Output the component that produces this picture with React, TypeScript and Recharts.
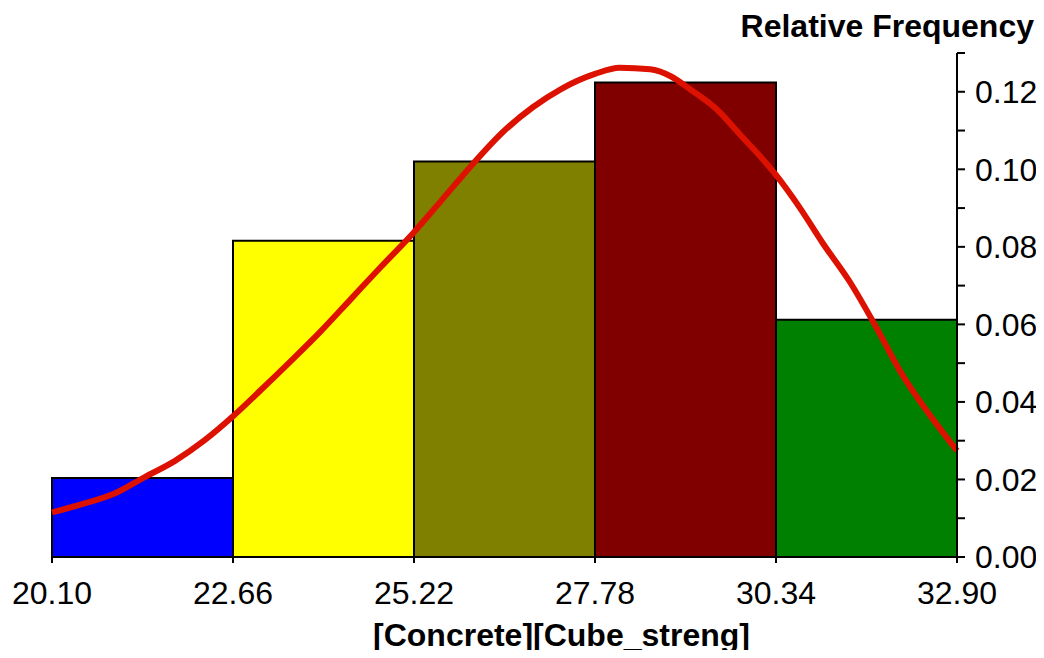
import React from 'react';
import {
  Bar,
  Cell,
  ComposedChart,
  Label,
  Line,
  XAxis,
  YAxis
} from 'recharts';

const binEdges = [20.1, 22.66, 25.22, 27.78, 30.34, 32.9];
const binLabels = ['20.10-22.66', '22.66-25.22', '25.22-27.78', '27.78-30.34', '30.34-32.90'];
const relFrequency = [0.0204, 0.0816, 0.102, 0.1224, 0.0612];
const binColors = ['#0000ff', '#ffff00', '#808000', '#800000', '#008000'];

const curveX = [
  20.1, 20.5, 21.0, 21.4, 21.84, 22.25, 22.66, 23.05, 23.47, 23.9, 24.31, 24.75,
  25.21, 25.6, 26.0, 26.5, 26.9, 27.3, 27.78, 28.13, 28.56, 28.85, 29.12, 29.5,
  29.83, 30.32, 30.68, 31.0, 31.39, 31.75, 32.1, 32.5, 32.9
];
const curveDensity = [
  0.0115, 0.0135, 0.0165, 0.0205, 0.0248, 0.0300, 0.0363, 0.0430, 0.0504, 0.0582,
  0.0662, 0.0748, 0.0836, 0.0918, 0.1003, 0.1100, 0.1160, 0.1207, 0.1246, 0.1262,
  0.1258, 0.1240, 0.1207, 0.1155, 0.1090, 0.0990, 0.0900, 0.0810, 0.0708, 0.0595,
  0.0478, 0.0370, 0.0274
];

const yTicks = [0, 0.01, 0.02, 0.03, 0.04, 0.05, 0.06, 0.07, 0.08, 0.09, 0.1, 0.11, 0.12, 0.13];

const bars = binLabels.map((bin, i) => ({ bin, freq: relFrequency[i] }));
const curve = curveX.map((x, i) => ({ x, density: curveDensity[i] }));

const font = 'Liberation Sans, Arial, sans-serif';
const tickStyle = { fontSize: 32, fill: '#000', fontFamily: font };

export default function App() {
  return (
    <div style={{ margin: -8, width: 1044, height: 658, background: '#fff' }}>
      <ComposedChart
        width={1044}
        height={658}
        data={bars}
        margin={{ top: 53, right: 0, bottom: 0, left: 52 }}
        barCategoryGap={0}
        barGap={0}
      >
        <XAxis xAxisId="cat" dataKey="bin" hide height={0} />
        <XAxis
          xAxisId="num"
          dataKey="x"
          type="number"
          domain={[20.1, 32.9]}
          ticks={binEdges}
          tickFormatter={(v) => Number(v).toFixed(2)}
          tick={tickStyle}
          tickSize={6}
          tickMargin={18}
          axisLine={{ stroke: '#000', strokeWidth: 2 }}
          tickLine={{ stroke: '#000', strokeWidth: 2 }}
          height={101}
          interval={0}
        >
          <Label
            value="[Concrete][Cube_streng]"
            position="insideBottom"
            offset={12}
            dx={57}
            style={{ fontSize: 32, fontWeight: 'bold', fill: '#000', fontFamily: font }}
          />
        </XAxis>
        <XAxis
          xAxisId="top"
          orientation="top"
          type="number"
          domain={[20.1, 32.9]}
          height={0}
          tick={false}
          tickLine={false}
          axisLine={{ stroke: '#000', strokeWidth: 2 }}
        />
        <YAxis
          yAxisId="left"
          orientation="left"
          domain={[0, 0.13]}
          width={0}
          tick={false}
          tickLine={false}
          axisLine={{ stroke: '#555', strokeWidth: 1 }}
        />
        <YAxis
          yAxisId="r"
          orientation="right"
          domain={[0, 0.13]}
          ticks={yTicks}
          interval={0}
          allowDataOverflow
          tickFormatter={(v) => (Math.round(Number(v) * 100) % 2 === 0 ? Number(v).toFixed(2) : '')}
          tick={tickStyle}
          tickSize={8}
          tickMargin={10}
          axisLine={{ stroke: '#000', strokeWidth: 2 }}
          tickLine={{ stroke: '#000', strokeWidth: 2 }}
          width={87}
        >
          <Label
            content={(props: any) => {
              const vb = props.viewBox || {};
              return (
                <text
                  x={(vb.x || 0) + (vb.width || 0) - 10}
                  y={(vb.y || 0) - 16}
                  textAnchor="end"
                  fontSize={32}
                  fontWeight="bold"
                  fontFamily={font}
                  fill="#000"
                >
                  Relative Frequency
                </text>
              );
            }}
          />
        </YAxis>
        <Bar
          xAxisId="cat"
          yAxisId="r"
          dataKey="freq"
          stroke="#000"
          strokeWidth={2}
          isAnimationActive={false}
        >
          {bars.map((b, i) => (
            <Cell key={b.bin} fill={binColors[i]} />
          ))}
        </Bar>
        <Line
          xAxisId="num"
          yAxisId="r"
          data={curve}
          dataKey="density"
          type="monotone"
          stroke="#dd1100"
          strokeWidth={6}
          dot={false}
          isAnimationActive={false}
        />
      </ComposedChart>
    </div>
  );
}
